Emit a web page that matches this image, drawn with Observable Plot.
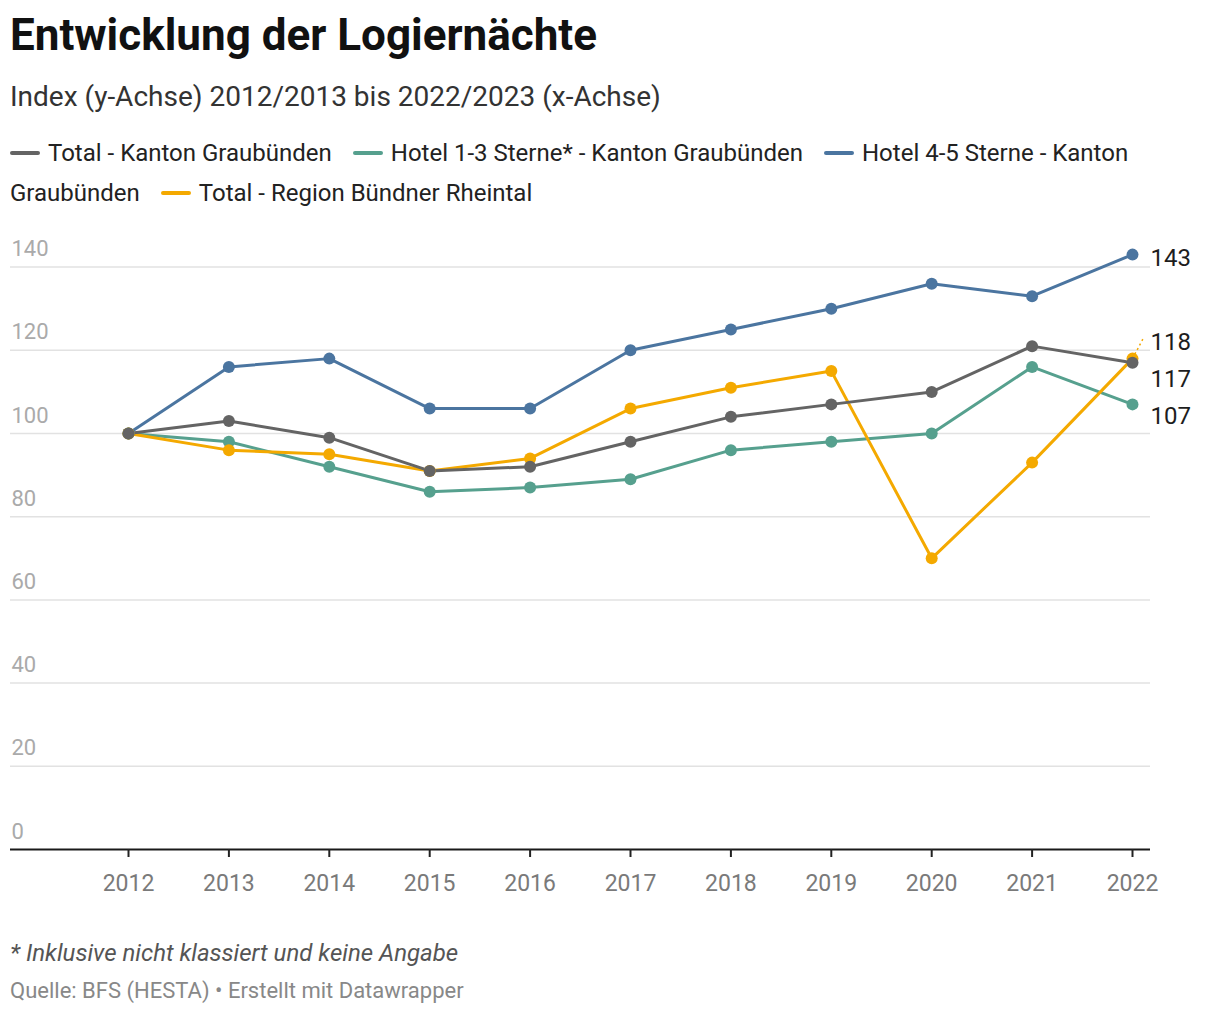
<!DOCTYPE html>
<html>
<head>
<meta charset="utf-8">
<script src="https://cdn.jsdelivr.net/npm/d3@7"></script>
<script src="https://cdn.jsdelivr.net/npm/@observablehq/plot@0.6"></script>
<style>
  html, body { margin: 0; padding: 0; background: #fff; }
  body { font-family: Roboto, "Noto Sans", sans-serif; color: #1d1d1d; }
  #wrap { padding-left: 10px; width: 1200px; }
  .title { font-size: 44px; font-weight: 700; height: 70px; line-height: 70px; color: #111; white-space: nowrap; }
  .subtitle { font-size: 28px; height: 54px; line-height: 54px; color: #333; }
  .legend { margin-top: 9px; height: 80px; line-height: 40px; font-size: 24px; color: #222; }
  .legend .sw { display: inline-block; width: 30px; height: 4px; border-radius: 2px; vertical-align: middle; margin-right: 8px; margin-left: 21px; position: relative; top: -2px; }
  .legend .sw.first { margin-left: 0; }
  #chart { margin-top: 12px; height: 680px; }
  #chart svg { display: block; }
  .note { margin-top: 30px; font-size: 24px; font-style: italic; line-height: 36px; color: #555; }
  .source { font-size: 22px; line-height: 40px; color: #888; }
</style>
</head>
<body>
<div id="wrap">
  <div class="title">Entwicklung der Logiernächte</div>
  <div class="subtitle">Index (y-Achse) 2012/2013 bis 2022/2023 (x-Achse)</div>
  <div class="legend" id="legend"></div>
  <div id="chart"></div>
  <div class="note">* Inklusive nicht klassiert und keine Angabe</div>
  <div class="source">Quelle: BFS (HESTA) • Erstellt mit Datawrapper</div>
</div>
<script>
const years = [2012, 2013, 2014, 2015, 2016, 2017, 2018, 2019, 2020, 2021, 2022];
const totalGR = [100, 103, 99, 91, 92, 98, 104, 107, 110, 121, 117];
const hotel13 = [100, 98, 92, 86, 87, 89, 96, 98, 100, 116, 107];
const hotel45 = [100, 116, 118, 106, 106, 120, 125, 130, 136, 133, 143];
const totalRheintal = [100, 96, 95, 91, 94, 106, 111, 115, 70, 93, 118];
const seriesNames = [
  "Total - Kanton Graubünden",
  "Hotel 1-3 Sterne* - Kanton Graubünden",
  "Hotel 4-5 Sterne - Kanton Graubünden",
  "Total - Region Bündner Rheintal"
];
const seriesColors = ["#646464", "#56a08e", "#4b75a0", "#f4a900"];
const yTicks = [0, 20, 40, 60, 80, 100, 120, 140];

const seriesValues = [totalGR, hotel13, hotel45, totalRheintal];
// draw order: blue, teal, orange, grey (grey on top)
const drawOrder = [2, 1, 3, 0];

const rows = [];
for (const i of drawOrder) {
  years.forEach((yr, j) => rows.push({ year: yr, value: seriesValues[i][j], series: seriesNames[i] }));
}

// legend (swatches and labels as siblings, inline flow so long labels wrap)
const legend = document.getElementById("legend");
seriesNames.forEach((n, i) => {
  const sw = document.createElement("span");
  sw.className = "sw" + (i === 0 ? " first" : "");
  sw.style.background = seriesColors[i];
  legend.appendChild(sw);
  const t = document.createElement("span");
  t.textContent = n;
  legend.appendChild(t);
});

// end labels with simple dodge (min gap in data units)
const lastIdx = years.length - 1;
const lastYear = years[lastIdx];
const ends = seriesNames.map((n, i) => ({ series: n, value: seriesValues[i][lastIdx] }))
  .sort((a, b) => b.value - a.value);
const gap = 9;
let clusters = ends.map(e => ({ items: [e], center: e.value }));
let changed = true;
function positions(c) {
  const n = c.items.length;
  return c.items.map((_, k) => c.center + ((n - 1) / 2 - k) * gap);
}
while (changed) {
  changed = false;
  for (let k = 0; k < clusters.length - 1; k++) {
    const a = clusters[k], b = clusters[k + 1];
    const pa = positions(a), pb = positions(b);
    if (pa[pa.length - 1] - pb[0] < gap) {
      const items = a.items.concat(b.items);
      const center = d3.mean(items, d => d.value);
      clusters.splice(k, 2, { items, center });
      changed = true;
      break;
    }
  }
}
const labels = [];
clusters.forEach(c => positions(c).forEach((p, k) => labels.push({ ...c.items[k], labelY: p })));
const connectors = labels.filter(d => Math.abs(d.labelY - d.value) > 3);

const chart = Plot.plot({
  width: 1200,
  height: 680,
  marginLeft: 0,
  marginRight: 60,
  marginTop: 20,
  marginBottom: 56,
  style: { fontFamily: "Roboto, sans-serif", background: "#fff" },
  x: { domain: [years[0], lastYear], range: [118, 1122], label: null },
  y: { domain: [0, 140], range: [624, 41.6], label: null, axis: null },
  color: { domain: seriesNames, range: seriesColors },
  marks: [
    Plot.ruleY(yTicks.filter(d => d > 0), { stroke: "#e2e2e2", strokeWidth: 1.5 }),
    Plot.text(yTicks, { y: d => d, text: d => String(d), frameAnchor: "left", textAnchor: "start", dx: 1, dy: -18, fill: "#aaa", fontSize: 22 }),
    Plot.ruleY([0], { stroke: "#1a1a1a", strokeWidth: 2 }),
    Plot.axisX({ ticks: years, tickFormat: d => String(d), label: null, tickSize: 8, tickPadding: 17, fontSize: 23, stroke: "#222", strokeWidth: 2, fill: "#7a7a7a" }),
    Plot.link(connectors, { x1: lastYear, y1: "value", x2: lastYear + 0.11, y2: "labelY", stroke: "series", strokeWidth: 1.5, strokeDasharray: "2,3" }),
    Plot.line(rows, { x: "year", y: "value", z: "series", stroke: "series", strokeWidth: 3, strokeLinejoin: "round", strokeLinecap: "round" }),
    Plot.dot(rows, { x: "year", y: "value", fill: "series", r: 6 }),
    Plot.text(labels, { x: lastYear, y: "labelY", text: d => String(d.value), dx: 18, dy: 4, textAnchor: "start", fontSize: 24, fill: "#1d1d1d" })
  ]
});
document.getElementById("chart").appendChild(chart);
</script>
</body>
</html>
